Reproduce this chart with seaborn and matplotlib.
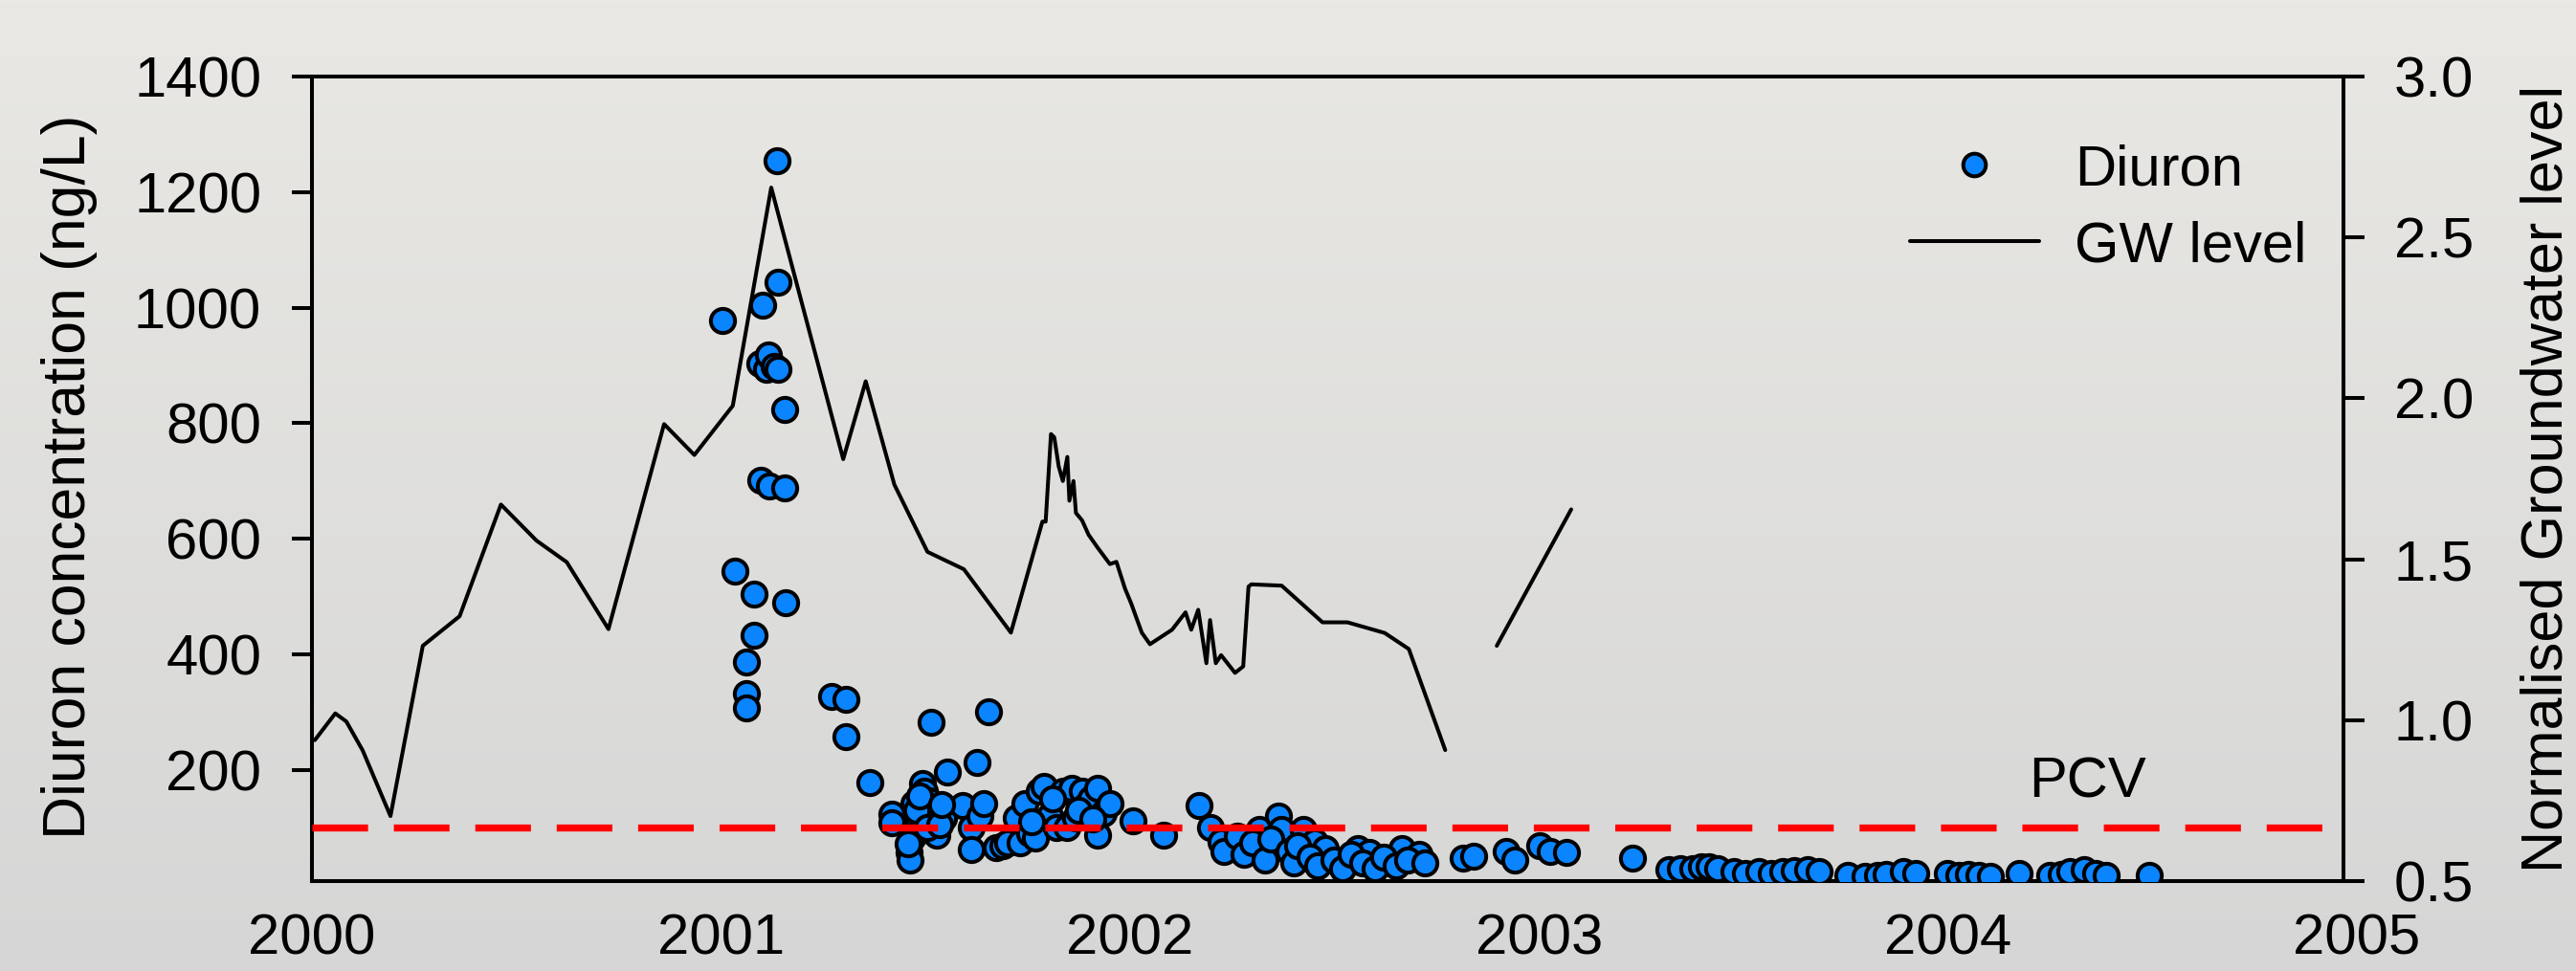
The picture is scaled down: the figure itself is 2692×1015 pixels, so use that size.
import numpy as np
import pandas as pd
import matplotlib
matplotlib.use("Agg")
import matplotlib.pyplot as plt
import matplotlib.transforms as mtransforms
from matplotlib.lines import Line2D
from matplotlib.colors import LinearSegmentedColormap
import seaborn as sns

# ---------------- data ----------------
diuron_year = [
    2001.003, 2001.035, 2001.062, 2001.062, 2001.062, 2001.080, 2001.082, 2001.096,
    2001.098, 2001.101, 2001.111, 2001.117, 2001.119, 2001.129, 2001.138, 2001.139,
    2001.139, 2001.156, 2001.156, 2001.158,
    2001.271, 2001.306, 2001.306, 2001.363, 2001.419, 2001.419, 2001.461, 2001.463,
    2001.466, 2001.471, 2001.475, 2001.482, 2001.488, 2001.492, 2001.497, 2001.502,
    2001.508, 2001.513, 2001.520, 2001.528, 2001.528, 2001.544, 2001.553, 2001.591,
    2001.612, 2001.612, 2001.625, 2001.633, 2001.643, 2001.654, 2001.674, 2001.690,
    2001.701, 2001.721, 2001.732, 2001.742, 2001.755, 2001.768, 2001.779, 2001.790,
    2001.805, 2001.821, 2001.836, 2001.847, 2001.857, 2001.868, 2001.883, 2001.894,
    2001.905, 2001.920, 2001.920, 2001.935, 2001.951, 2002.008, 2002.083, 2002.170,
    2002.196, 2002.223, 2002.250, 2002.317, 2002.364, 2002.371, 2002.425, 2002.451,
    2002.478, 2002.558, 2002.585, 2002.666, 2002.706, 2002.814, 2002.840, 2002.921,
    2002.941, 2003.001, 2003.028, 2003.068, 2003.229,
    2001.458, 2001.478, 2001.486, 2001.505, 2001.535, 2001.540, 2001.760, 2001.812,
    2001.875, 2001.910, 2002.230, 2002.262, 2002.280, 2002.300, 2002.330, 2002.345,
    2002.390, 2002.400, 2002.410, 2002.440, 2002.460, 2002.500, 2002.520, 2002.540,
    2002.570, 2002.600, 2002.620, 2002.650, 2002.680, 2002.720,
    2003.317, 2003.345, 2003.377, 2003.397, 2003.417, 2003.437, 2003.477, 2003.505,
    2003.537, 2003.569, 2003.597, 2003.625, 2003.658, 2003.686, 2003.755, 2003.797,
    2003.827, 2003.850, 2003.890, 2003.921, 2003.998, 2004.026, 2004.051, 2004.075,
    2004.103, 2004.175, 2004.250, 2004.276, 2004.299, 2004.334, 2004.362, 2004.386,
    2004.493,
]
diuron_conc = [
    978, 544, 387, 332, 307, 504, 434, 903,
    702, 1004, 894, 919, 691, 898, 1255, 1044,
    894, 824, 689, 489,
    328, 322, 258, 178, 124, 109, 58, 45,
    83, 142, 100, 117, 95, 176, 164, 125,
    147, 283, 110, 130, 87, 117, 197, 138,
    100, 62, 214, 121, 142, 301, 66, 70,
    75, 117, 75, 142, 90, 83, 164, 172,
    120, 100, 164, 100, 168, 117, 164, 138,
    150, 168, 87, 125, 142, 113, 87, 139,
    101, 76, 65, 98, 120, 98, 98, 76,
    65, 65, 57, 65, 54, 48, 51, 59,
    45, 70, 59, 57, 48,
    72, 130, 155, 100, 105, 140, 110, 150,
    130, 115, 60, 85, 55, 75, 45, 80,
    60, 40, 70, 50, 35, 45, 30, 55,
    40, 30, 50, 35, 45, 40,
    28, 30, 30, 32, 32, 30, 25, 22,
    25, 22, 24, 26, 28, 24, 18, 16,
    18, 20, 25, 22, 22, 18, 20, 18,
    16, 22, 18, 20, 24, 28, 22, 18,
    18,
]

gw_year = [
    2000.007, 2000.057, 2000.084, 2000.124, 2000.192, 2000.271, 2000.361, 2000.462,
    2000.549, 2000.623, 2000.725, 2000.861, 2000.935, 2001.029, 2001.123, 2001.299,
    2001.354, 2001.424, 2001.505, 2001.594, 2001.709, 2001.786, 2001.794, 2001.807,
    2001.815, 2001.826, 2001.836, 2001.847, 2001.852, 2001.862, 2001.868, 2001.883,
    2001.899, 2001.920, 2001.951, 2001.967, 2001.988, 2002.003, 2002.029, 2002.049,
    2002.103, 2002.136, 2002.150, 2002.167, 2002.187, 2002.196, 2002.210, 2002.223,
    2002.257, 2002.277, 2002.290, 2002.297, 2002.371, 2002.471, 2002.532, 2002.623,
    2002.682, 2002.771,
    2002.897, 2003.079,
]
gw_level = [
    0.938, 1.021, 0.996, 0.906, 0.702, 1.231, 1.323, 1.670,
    1.558, 1.491, 1.283, 1.920, 1.824, 1.977, 2.655, 1.811,
    2.053, 1.732, 1.523, 1.469, 1.272, 1.617, 1.617, 1.889,
    1.879, 1.788, 1.743, 1.818, 1.682, 1.743, 1.644, 1.621,
    1.576, 1.538, 1.485, 1.492, 1.409, 1.363, 1.272, 1.236,
    1.281, 1.335, 1.281, 1.343, 1.177, 1.311, 1.177, 1.202,
    1.147, 1.167, 1.415, 1.422, 1.418, 1.304, 1.304, 1.271,
    1.221, 0.907,
    1.231, 1.655,
]
gw_segment = [1] * 58 + [2] * 2

year_ticks = [2000, 2001, 2002, 2003, 2004]
year_extra_label = 2005
conc_ticks = [200, 400, 600, 800, 1000, 1200, 1400]
gw_ticks = [0.5, 1.0, 1.5, 2.0, 2.5, 3.0]
pcv_value = 100

# ---------------- style ----------------
sns.set_theme(style="white")
plt.rcParams["font.family"] = ["Liberation Sans", "DejaVu Sans"]
plt.rcParams.update({
    "text.color": "black", "axes.labelcolor": "black",
    "xtick.color": "black", "ytick.color": "black", "axes.edgecolor": "black",
})

W, H = 2692, 1015
fig = plt.figure(figsize=(W / 100, H / 100), dpi=100)

# background (soft grey, like the blurred photo)
bg = fig.add_axes([0, 0, 1, 1], zorder=-10)
grad = np.linspace(0, 1, 256).reshape(-1, 1)
bg.imshow(grad, aspect="auto", extent=[0, 1, 0, 1], origin="upper",
          cmap=LinearSegmentedColormap.from_list("bg", ["#E9E8E4", "#D6D6D6"]))
bg.axis("off")

L, R, T, B = 326, 2449, 80, 921
ax = fig.add_axes([L / W, 1 - B / H, (R - L) / W, (B - T) / H])
ax2 = ax.twinx()
ax.set_zorder(2)
ax2.set_zorder(1)
ax.patch.set_visible(False)
ax2.patch.set_visible(False)

blue = "#0A84FF"

# GW level line (right axis)
gw_df = pd.DataFrame({"year": gw_year, "level": gw_level, "segment": gw_segment})
sns.lineplot(data=gw_df, x="year", y="level", units="segment", estimator=None,
             sort=False, color="black", linewidth=2.9, ax=ax2, legend=False)

# Diuron scatter (left axis)
sns.scatterplot(x=diuron_year, y=diuron_conc, ax=ax, s=330, color=blue,
                edgecolor="black", linewidth=2.9, legend=False, zorder=3)

# PCV line
ax.axhline(pcv_value, color="#FF0000", linewidth=5.3, dashes=(7.9, 3.66), zorder=4)
ax.text(2004.341, 153.6, "PCV", ha="center", va="baseline", fontsize=43)

# limits
xmin, xmax = 2000 + (L - 323) / 428, 2000 + (R - 323) / 428
ax.set_xlim(xmin, xmax)
ax.set_ylim(8, 1400)
ax2.set_ylim(0.5, 3.0)

ax.set_xticks(year_ticks)
ax.set_xticklabels([str(y) for y in year_ticks])
ax.set_yticks(conc_ticks)
ax2.set_yticks(gw_ticks)
ax2.set_yticklabels([f"{v:.1f}" for v in gw_ticks])

ax.set_xlabel("")
ax2.set_xlabel("")
xpad_pt = 24
ax.tick_params(axis="x", length=0, pad=xpad_pt, labelsize=43, bottom=True)
ax.tick_params(axis="y", direction="out", length=15, width=2.9, pad=23,
               labelsize=43, left=True, right=False)
ax2.tick_params(axis="y", direction="out", length=16, width=2.9, pad=22,
                labelsize=43, right=True, left=False)

pad_ax = xpad_pt * 100 / 72 / (B - T)
trans = mtransforms.blended_transform_factory(ax.transData, ax.transAxes)
ax.text(year_extra_label, -pad_ax, str(year_extra_label), transform=trans,
        ha="center", va="top", fontsize=43, clip_on=False)

for s in ["left", "top", "bottom"]:
    ax.spines[s].set_visible(True)
    ax.spines[s].set_linewidth(2.9)
    ax.spines[s].set_color("black")
ax.spines["right"].set_visible(False)
for s in ["left", "top", "bottom"]:
    ax2.spines[s].set_visible(False)
ax2.spines["right"].set_visible(True)
ax2.spines["right"].set_linewidth(2.9)
ax2.spines["right"].set_color("black")

ax.set_ylabel("Diuron concentration (ng/L)", fontsize=45)
ax.yaxis.set_label_coords((102 - L) / (R - L), 0.503)
ax2.set_ylabel("Normalised Groundwater level", fontsize=44)
ax2.yaxis.set_label_coords((2634 - L) / (R - L), 0.5)

handles = [
    Line2D([], [], marker="o", linestyle="", markersize=17, markerfacecolor=blue,
           markeredgecolor="black", markeredgewidth=2.9),
    Line2D([], [], color="black", linewidth=2.9),
]
ax.legend(handles, ["Diuron", "GW level"], loc="upper left",
          bbox_to_anchor=(1996 / W, 1 - 150 / H), bbox_transform=fig.transFigure,
          frameon=False, fontsize=43, handlelength=2.26, handletextpad=0.62,
          labelspacing=0.42, borderpad=0, borderaxespad=0, numpoints=1)

fig.savefig("out.png", dpi=100)
